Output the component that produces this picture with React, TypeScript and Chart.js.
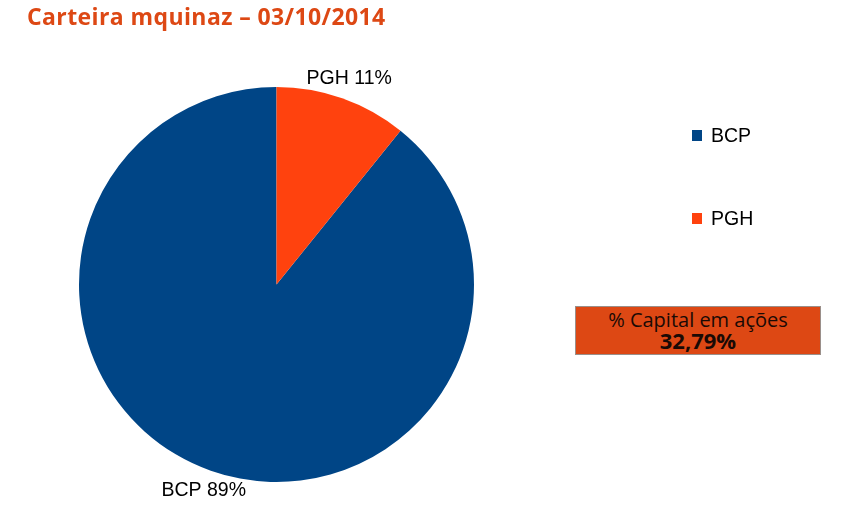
import React, { useEffect, useRef } from "react";
import { Chart, registerables } from "chart.js";

Chart.register(...registerables);

const TITLE = "Carteira mquinaz – 03/10/2014";
const categories = ["BCP", "PGH"];
const shares = [89.2, 10.8];
const pieLabels = ["BCP 89%", "PGH 11%"];
const colors = ["#004586", "#FF420E"];
const boxTitle = "% Capital em ações";
const boxValue = "32,79%";

const outsideLabels = {
  id: "outsideLabels",
  afterDatasetsDraw(chart: any) {
    const ctx = chart.ctx;
    const meta = chart.getDatasetMeta(0);
    ctx.save();
    ctx.font = '19.5px "Liberation Sans", Arial, sans-serif';
    ctx.fillStyle = "#000000";
    ctx.textAlign = "center";
    ctx.textBaseline = "middle";
    meta.data.forEach((arc: any, i: number) => {
      const p = arc.getProps(["x", "y", "startAngle", "endAngle", "outerRadius"], true);
      const mid = (p.startAngle + p.endAngle) / 2;
      const r = p.outerRadius + 21;
      ctx.fillText(pieLabels[i], p.x + Math.cos(mid) * r, p.y + Math.sin(mid) * r);
    });
    ctx.restore();
  },
};

export default function App() {
  const ref = useRef<HTMLCanvasElement>(null);
  useEffect(() => {
    if (!ref.current) return;
    const pghShare = shares[1] / shares.reduce((a, b) => a + b, 0);
    const chart = new Chart(ref.current, {
      type: "pie",
      data: {
        labels: categories,
        datasets: [
          {
            data: shares,
            backgroundColor: colors,
            borderWidth: 0,
          },
        ],
      },
      options: {
        responsive: false,
        animation: false,
        rotation: pghShare * 360,
        layout: { padding: { left: 79, right: 377, top: 87, bottom: 31 } },
        plugins: {
          legend: { display: false },
          title: { display: false },
          tooltip: { enabled: false },
        },
      },
      plugins: [outsideLabels],
    });
    return () => chart.destroy();
  }, []);

  return (
    <div style={{ position: "absolute", left: 0, top: 0, width: 851, height: 513, background: "#ffffff", overflow: "hidden" }}>
      <canvas ref={ref} width={851} height={513} style={{ position: "absolute", left: 0, top: 0 }} />
      <div
        style={{
          position: "absolute",
          left: 27,
          top: 0,
          fontFamily: '"Open Sans", sans-serif',
          fontWeight: 700,
          fontSize: 23,
          color: "#DD4814",
          whiteSpace: "nowrap",
          letterSpacing: 0.4,
        }}
      >
        {TITLE}
      </div>
      {categories.map((c, i) => (
        <div
          key={c}
          style={{
            position: "absolute",
            left: 692,
            top: 123 + i * 83,
            height: 24,
            display: "flex",
            alignItems: "center",
            fontFamily: '"Liberation Sans", Arial, sans-serif',
            fontSize: 19.5,
            color: "#000",
          }}
        >
          <span style={{ display: "inline-block", width: 10, height: 11, background: colors[i], marginRight: 9 }} />
          {c}
        </div>
      ))}
      <div
        style={{
          position: "absolute",
          left: 575,
          top: 306,
          width: 244,
          height: 47,
          background: "#DD4814",
          border: "1px solid #9a8f8a",
          fontFamily: '"Open Sans", sans-serif',
          color: "#1a0a05",
          textAlign: "center",
          lineHeight: 1,
        }}
      >
        <div style={{ fontSize: 20, marginTop: 3 }}>{boxTitle}</div>
        <div style={{ fontSize: 22, fontWeight: 700, marginTop: -1 }}>{boxValue}</div>
      </div>
    </div>
  );
}
